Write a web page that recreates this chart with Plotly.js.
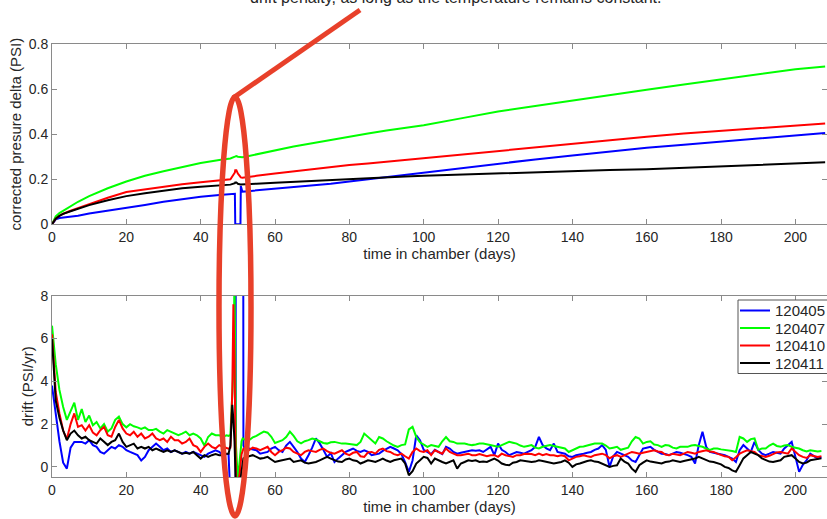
<!DOCTYPE html>
<html><head><meta charset="utf-8">
<script src="https://cdn.plot.ly/plotly-3.0.1.min.js"></script>
<style>html,body{margin:0;padding:0;background:#fff;} #chart{width:827px;height:519px;}</style>
</head><body><div id="chart"></div>
<script>
// ---------- data ----------
const sensorNames = ['120405', '120407', '120410', '120411'];
const sensorColors = ['#0000ff', '#00ff00', '#ff0000', '#000000'];

// top panel: corrected pressure delta (PSI)
const pressureDays = [0, 1, 2, 3, 5, 7, 10, 15, 20, 25, 30, 35, 40, 45, 48, 49.2, 49.3, 49.6, 50, 50.7, 50.8, 51.2, 52, 55, 60, 65, 70, 75, 80, 85, 90, 95, 100, 110, 120, 130, 140, 150, 160, 170, 180, 190, 200, 208];
const pressure120405 = [0, 0.022, 0.028, 0.03, 0.031, 0.038, 0.048, 0.06, 0.072, 0.086, 0.1, 0.112, 0.122, 0.13, 0.134, 0.135, 0, 0, 0, 0, 0.17, 0.145, 0.146, 0.15, 0.158, 0.166, 0.172, 0.18, 0.19, 0.2, 0.21, 0.22, 0.228, 0.25, 0.27, 0.288, 0.305, 0.322, 0.34, 0.353, 0.366, 0.38, 0.395, 0.405];
const pressure120407 = [0, 0.035, 0.05, 0.06, 0.078, 0.1, 0.125, 0.16, 0.19, 0.215, 0.235, 0.255, 0.272, 0.285, 0.292, 0.3, 0.302, 0.303, 0.3, 0.297, 0.297, 0.298, 0.3, 0.31, 0.33, 0.345, 0.36, 0.375, 0.39, 0.403, 0.416, 0.428, 0.44, 0.47, 0.5, 0.525, 0.55, 0.573, 0.597, 0.62, 0.643, 0.665, 0.688, 0.7];
const pressure120410 = [0, 0.025, 0.038, 0.047, 0.06, 0.072, 0.09, 0.118, 0.143, 0.155, 0.167, 0.178, 0.187, 0.195, 0.2, 0.23, 0.24, 0.24, 0.225, 0.21, 0.208, 0.207, 0.208, 0.215, 0.225, 0.235, 0.245, 0.255, 0.263, 0.27, 0.278, 0.285, 0.293, 0.31, 0.327, 0.343, 0.357, 0.372, 0.388, 0.403, 0.415, 0.428, 0.44, 0.447];
const pressure120411 = [0, 0.025, 0.037, 0.046, 0.058, 0.07, 0.085, 0.107, 0.125, 0.138, 0.15, 0.16, 0.167, 0.173, 0.176, 0.182, 0.186, 0.186, 0.18, 0.177, 0.177, 0.177, 0.178, 0.18, 0.184, 0.188, 0.193, 0.198, 0.203, 0.207, 0.21, 0.212, 0.215, 0.22, 0.226, 0.232, 0.238, 0.241, 0.244, 0.25, 0.255, 0.262, 0.27, 0.275];

// bottom panel: drift (PSI/yr)
const driftDays = [
  0, 1, 2, 3, 4, 5, 6, 7, 8, 9, 10, 11, 12, 13, 14, 15, 16, 17, 18, 19, 20, 21, 22, 23, 24, 25, 26, 27, 28, 29, 30, 31, 32, 33, 34, 35, 36, 37, 38, 39, 40, 41, 42, 43, 44, 45, 46, 47,
  47.5, 48, 48.5, 48.8, 49.1, 49.4, 49.5, 50, 50.5, 51, 51.3, 51.5,
  52, 53, 54, 55, 56, 57, 58, 59, 60, 61, 62, 63, 64, 65, 66, 67, 68, 69, 70, 71, 72, 73, 74, 75, 76, 77, 78, 79, 80, 81, 82, 83, 84, 85, 86, 87, 88, 89, 90, 91, 92, 93, 94, 95, 96, 97, 98, 99, 100, 101,
  102, 103, 104, 105, 106, 107, 108, 109, 110, 111, 112, 113, 114, 115, 116, 117, 118, 119, 120, 121, 122, 123, 124, 125, 126, 127, 128, 129, 130, 131, 132, 133, 134, 135, 136, 137, 138, 139, 140, 141, 142, 143, 144, 145, 146, 147, 148, 149, 150, 151,
  152, 153, 154, 155, 156, 157, 158, 159, 160, 161, 162, 163, 164, 165, 166, 167, 168, 169, 170, 171, 172, 173, 174, 175, 176, 177, 178, 179, 180, 181, 182, 183, 184, 185, 186, 187, 188, 189, 190, 191, 192, 193, 194, 195, 196, 197, 198, 199, 200, 201,
  202, 203, 204, 205, 206, 207];
const drift120405 = [
  3.8, 2.5, 1.2, 0.2, -0.08, 0.9, 1.17, 1.17, 1.17, 1.09, 1.25, 1.02, 0.94, 0.7, 0.62, 0.78, 0.94, 0.86, 1.02, 0.94, 0.78, 0.7, 0.62, 0.55, 0.3, 0.47, 0.78, 0.94, 1.09, 0.94, 0.78, 0.86, 0.7, 0.78, 0.7, 0.62, 0.7, 0.62, 0.7, 0.62, 0.55, 0.47, 0.62, 0.7, 0.78, 0.7, 0.55, 0.6,
  0.6, -1.5, -3, -3, -3, -3, 40, 40, 40, 40, 40, 1.0,
  0.8, 0.86, 0.82, 0.78, 0.62, 0.66, 0.7, 0.86, 0.94, 0.78, 0.7, 1.0, 1.17, 0.94, 0.7, 0.39, 0.23, 0.55, 0.9, 1.33, 1.1, 0.8, 0.47, 0.65, 0.23, 0.4, 0.55, 0.7, 0.78, 0.86, 0.75, 0.7, 0.78, 0.7, 0.55, 0.6, 0.62, 0.75, 0.86, 0.94, 0.86, 0.78, 0.6, 0.23, -0.23, 0.3, 1.48, 1.25, 0.8, 0.7,
  0.6, 0.8, 0.7, 0.6, 0.94, 0.86, 0.7, 0.62, 0.66, 0.7, 0.74, 0.78, 0.76, 0.78, 0.7, 0.8, 0.94, 0.55, 1.09, 0.8, 0.7, 0.55, 0.62, 0.7, 0.66, 0.62, 0.7, 0.78, 0.94, 1.4, 1.02, 0.86, 0.78, 1.09, 0.7, 0.66, 0.62, 0.5, 0.47, 0.55, 0.6, 0.62, 0.66, 0.7, 0.8, 0.86, 1.02, 0.8, 0.0, 0.5,
  0.7, 0.62, 0.55, 0.47, 0.3, 0.23, 0.55, 0.86, 0.9, 0.94, 0.8, 0.7, 0.62, 0.6, 0.55, 0.62, 0.7, 0.66, 0.62, 0.55, 0.47, 0.16, 1.02, 1.64, 0.94, 0.7, 0.66, 0.62, 0.6, 0.55, 0.47, 0.39, 0.23, 0.78, 1.02, 0.85, 0.7, 1.17, 0.8, 0.62, 0.55, 0.62, 0.7, 0.66, 0.62, 0.86, 1.02, 1.17, 0.47, -0.23,
  0.1, 0.31, 0.62, 0.5, 0.39, 0.45];
const drift120407 = [
  6.6, 4.8, 3.6, 2.8, 2.2, 2.6, 3.0, 2.2, 2.7, 2.1, 2.4, 1.95, 2.1, 1.8, 2.0, 1.65, 1.8, 2.2, 2.35, 2.0, 1.85, 2.0, 1.9, 1.85, 1.78, 1.85, 1.72, 1.72, 1.78, 1.65, 1.56, 1.72, 1.65, 1.56, 1.48, 1.56, 1.65, 1.48, 1.56, 1.48, 1.33, 1.0, 1.4, 1.56, 1.48, 1.48, 1.41, 1.48,
  1.45, 1.5, 3.0, 4.5, 9, 3, 1.0, -0.6, 0.2, 1.2, 1.33, 1.3,
  1.28, 1.25, 1.38, 1.45, 1.56, 1.65, 1.6, 1.41, 1.12, 1.2, 1.25, 1.4, 1.65, 1.45, 1.2, 1.1, 1.2, 1.25, 1.33, 1.28, 1.2, 1.12, 1.09, 1.15, 1.17, 1.12, 1.09, 1.1, 1.09, 1.05, 1.02, 1.17, 1.56, 1.4, 1.25, 1.1, 1.4, 1.33, 1.2, 1.09, 1.0, 0.94, 1.02, 1.05, 1.75, 1.87, 1.4, 1.15, 1.05, 0.94,
  1.02, 0.98, 0.94, 1.2, 1.4, 1.2, 1.17, 1.09, 1.09, 1.09, 1.05, 1.02, 1.05, 1.09, 1.09, 1.05, 1.02, 0.98, 0.94, 1.02, 1.1, 1.17, 1.13, 1.09, 1.0, 0.94, 0.98, 1.02, 0.9, 0.86, 0.94, 0.98, 1.02, 0.98, 0.94, 0.9, 0.86, 0.7, 0.78, 0.86, 0.94, 0.96, 1.02, 1.05, 1.09, 1.09, 1.09, 1.0, 0.86, 0.9,
  0.94, 0.8, 0.86, 0.9, 1.2, 1.4, 1.33, 1.09, 1.17, 1.2, 1.05, 1.02, 0.94, 1.02, 1.0, 0.9, 0.86, 0.94, 0.94, 0.94, 1.0, 1.02, 0.98, 0.94, 0.86, 0.8, 0.86, 0.86, 0.82, 0.8, 0.78, 0.74, 0.7, 1.4, 1.33, 1.17, 1.3, 1.33, 0.8, 0.86, 0.86, 1.0, 1.09, 0.98, 0.94, 1.0, 1.02, 0.94, 0.9, 0.86,
  0.78, 0.72, 0.78, 0.74, 0.72, 0.74];
const drift120410 = [
  6.2, 3.5, 2.5, 1.7, 1.3, 2.0, 2.5, 1.87, 1.95, 1.7, 1.95, 1.6, 1.48, 1.72, 1.87, 1.48, 1.41, 1.87, 2.2, 1.8, 1.56, 1.48, 1.64, 1.41, 1.56, 1.33, 1.41, 1.56, 1.33, 1.25, 1.33, 1.17, 1.41, 1.25, 1.25, 1.09, 1.17, 1.33, 1.02, 0.94, 0.7, 0.94, 1.09, 0.94, 0.86, 1.02, 0.94, 0.86,
  0.85, 0.9, 3.5, 7.6, 5.0, 0.5, -0.6, -0.8, -0.3, 0.6, 0.8, 0.85,
  0.82, 0.78, 0.9, 0.86, 0.78, 0.86, 0.94, 0.7, 0.55, 0.7, 0.78, 0.9, 0.86, 0.7, 0.62, 0.55, 0.7, 0.78, 0.74, 0.7, 0.8, 0.86, 0.74, 0.66, 0.62, 0.7, 0.78, 0.62, 0.55, 0.66, 0.7, 0.5, 0.47, 0.68, 0.7, 0.62, 0.8, 0.86, 0.74, 0.7, 0.6, 0.55, 0.62, 0.5, 0.39, 0.7, 0.86, 0.74, 0.7, 0.78,
  0.55, 0.78, 0.7, 0.62, 0.86, 0.7, 0.62, 0.55, 0.55, 0.6, 0.62, 0.55, 0.55, 0.6, 0.55, 0.5, 0.55, 0.55, 0.47, 0.62, 0.55, 0.5, 0.47, 0.55, 0.55, 0.6, 0.62, 0.6, 0.55, 0.62, 0.55, 0.6, 0.55, 0.55, 0.5, 0.55, 0.5, 0.31, 0.4, 0.47, 0.5, 0.55, 0.5, 0.47, 0.55, 0.6, 0.62, 0.55, 0.4, 0.5,
  0.55, 0.47, 0.55, 0.62, 0.7, 0.66, 0.62, 0.66, 0.7, 0.74, 0.78, 0.72, 0.7, 0.58, 0.55, 0.62, 0.58, 0.55, 0.62, 0.7, 0.66, 0.62, 0.7, 0.74, 0.78, 0.72, 0.7, 0.62, 0.55, 0.5, 0.47, 0.31, 0.45, 0.62, 0.7, 0.78, 0.74, 0.7, 0.55, 0.5, 0.47, 0.52, 0.6, 0.68, 0.7, 0.65, 0.62, 0.86, 0.7, 0.55,
  0.47, 0.42, 0.55, 0.52, 0.47, 0.5];
const drift120411 = [
  6.0, 3.1, 2.3, 1.7, 1.25, 1.56, 1.7, 1.48, 1.33, 1.41, 1.25, 1.17, 1.09, 1.33, 1.17, 1.02, 1.17, 1.25, 1.56, 1.17, 0.94, 1.02, 1.09, 0.86, 0.94, 0.86, 0.94, 0.78, 0.86, 0.78, 0.7, 0.78, 0.7, 0.78, 0.7, 0.62, 0.66, 0.62, 0.7, 0.55, 0.39, 0.55, 0.47, 0.55, 0.6, 0.55, 0.55, 0.62,
  0.62, 1.0, 2.9, 2.2, 1.2, -0.6, -0.8, -0.8, -0.8, -0.2, 0.3, 0.4,
  0.45, 0.5, 0.55, 0.47, 0.39, 0.42, 0.47, 0.35, 0.23, 0.28, 0.31, 0.35, 0.39, 0.23, 0.28, 0.31, 0.2, 0.16, 0.2, 0.23, 0.31, 0.39, 0.47, 0.39, 0.31, 0.25, 0.23, 0.35, 0.39, 0.31, 0.28, 0.16, 0.23, 0.31, 0.28, 0.23, 0.31, 0.39, 0.3, 0.23, 0.31, 0.35, 0.39, 0.16, -0.39, -0.2, 0.16, 0.31, 0.47, 0.42,
  0.16, 0.39, 0.3, 0.23, 0.16, 0.25, 0.31, -0.08, 0.16, 0.23, 0.31, 0.28, 0.31, 0.23, 0.25, 0.23, 0.3, 0.39, 0.3, 0.16, 0.1, 0.08, 0.2, 0.23, 0.31, 0.28, 0.23, 0.23, 0.25, 0.31, 0.28, 0.23, 0.2, 0.16, 0.2, 0.23, 0.31, 0.2, 0.0, 0.12, 0.16, 0.23, 0.28, 0.31, 0.25, 0.23, 0.16, 0.1, 0.0, 0.05,
  0.08, 0.39, 0.25, 0.16, -0.08, -0.23, 0.08, 0.2, 0.31, 0.25, 0.23, 0.2, 0.16, 0.23, 0.25, 0.31, 0.28, 0.23, 0.28, 0.31, 0.35, 0.39, 0.47, 0.39, 0.31, 0.25, 0.23, 0.16, 0.12, 0.0, -0.05, -0.16, -0.23, 0.08, 0.4, 0.55, 0.7, 0.62, 0.55, 0.4, 0.31, 0.25, 0.23, 0.28, 0.31, 0.47, 0.5, 0.55, 0.4, 0.23,
  0.16, 0.2, 0.31, 0.35, 0.39, 0.4];

const dayTicks = [0, 20, 40, 60, 80, 100, 120, 140, 160, 180, 200];
const pressureTicks = [0, 0.2, 0.4, 0.6, 0.8];
const driftTicks = [0, 2, 4, 6, 8];
const noteText = 'drift penalty, as long as the temperature remains constant.';

// ---------- layout helpers ----------
const W = 827, H = 519;
const M = {l: 52, r: 0, t: 44, b: 42};
const plotW = W - M.l - M.r, plotH = H - M.t - M.b;
const px2x = px => (px - M.l) / plotW;
const py2y = py => (H - M.b - py) / plotH;

const FONT = 'Liberation Sans, Arial, Helvetica, sans-serif';
const TXT = '#262626';
const LINE = '#8a8a8a';
const RED = '#e8402a';

const pressureSeries = [pressure120405, pressure120407, pressure120410, pressure120411];
const driftSeries = [drift120405, drift120407, drift120410, drift120411];
const legendIds = ['legend', 'legend2', 'legend3', 'legend4'];
const legendRowsPx = [310.7, 328.3, 345.7, 363.3];

const traces = [];
sensorNames.forEach((name, i) => {
  traces.push({
    x: pressureDays, y: pressureSeries[i], type: 'scatter', mode: 'lines',
    name: name, showlegend: false, xaxis: 'x', yaxis: 'y',
    line: {color: sensorColors[i], width: 2}
  });
});
sensorNames.forEach((name, i) => {
  traces.push({
    x: driftDays, y: driftSeries[i], type: 'scatter', mode: 'lines',
    name: name, showlegend: true, legend: legendIds[i], xaxis: 'x2', yaxis: 'y2',
    line: {color: sensorColors[i], width: 2}
  });
});

const axisBase = {
  showline: true, mirror: 'ticks', linecolor: LINE, linewidth: 1,
  ticks: 'inside', ticklen: 5, tickcolor: LINE, tickwidth: 1,
  tickfont: {family: FONT, size: 14, color: TXT},
  showgrid: false, zeroline: false, automargin: false
};
const titleFont = {family: FONT, size: 15, color: TXT};

const layout = {
  width: W, height: H,
  margin: Object.assign({autoexpand: false, pad: 0}, M),
  paper_bgcolor: '#ffffff', plot_bgcolor: '#ffffff',
  font: {family: FONT, color: TXT},
  showlegend: true,
  xaxis: Object.assign({}, axisBase, {
    domain: [0, 1], anchor: 'y', range: [0, 208.5], tickmode: 'array', tickvals: dayTicks,
    title: {text: 'time in chamber (days)', font: titleFont, standoff: 0}
  }),
  yaxis: Object.assign({}, axisBase, {
    domain: [py2y(224.3), 1], anchor: 'x', range: [0, 0.8], tickmode: 'array', tickvals: pressureTicks,
    title: {text: 'corrected presure delta (PSI)', font: titleFont, standoff: 3}
  }),
  xaxis2: Object.assign({}, axisBase, {
    domain: [0, 1], anchor: 'y2', range: [0, 208.5], tickmode: 'array', tickvals: dayTicks,
    title: {text: 'time in chamber (days)', font: titleFont, standoff: 0}
  }),
  yaxis2: Object.assign({}, axisBase, {
    domain: [0, py2y(295.7)], anchor: 'x2', range: [-0.47, 8], tickmode: 'array', tickvals: driftTicks,
    title: {text: 'drift (PSI/yr)', font: titleFont, standoff: 3}
  }),
  annotations: [{
    text: noteText, xref: 'paper', yref: 'paper', x: px2x(456), y: py2y(-2),
    xanchor: 'center', yanchor: 'middle', showarrow: false,
    font: {family: FONT, size: 16, color: TXT}
  }],
  shapes: [
    // legend frame
    {type: 'rect', xref: 'paper', yref: 'paper', x0: px2x(738), x1: px2x(845), y0: py2y(373.5), y1: py2y(300),
     line: {color: '#555555', width: 1}, fillcolor: '#ffffff', layer: 'above'},
    // red callout
    {type: 'circle', xref: 'paper', yref: 'paper', x0: px2x(219), x1: px2x(251), y0: py2y(516), y1: py2y(97),
     line: {color: RED, width: 5.5}, fillcolor: 'rgba(0,0,0,0)', layer: 'above'},
    {type: 'line', xref: 'paper', yref: 'paper', x0: px2x(233), y0: py2y(98), x1: px2x(360), y1: py2y(10),
     line: {color: RED, width: 5}, layer: 'above'}
  ]
};
legendIds.forEach((id, i) => {
  layout[id] = {
    x: px2x(735), y: py2y(legendRowsPx[i]), xanchor: 'left', yanchor: 'middle',
    bgcolor: 'rgba(0,0,0,0)', borderwidth: 0,
    font: {family: FONT, size: 15, color: TXT}, itemwidth: 30
  };
});

Plotly.newPlot('chart', traces, layout, {staticPlot: true, displayModeBar: false});
</script>
</body></html>
